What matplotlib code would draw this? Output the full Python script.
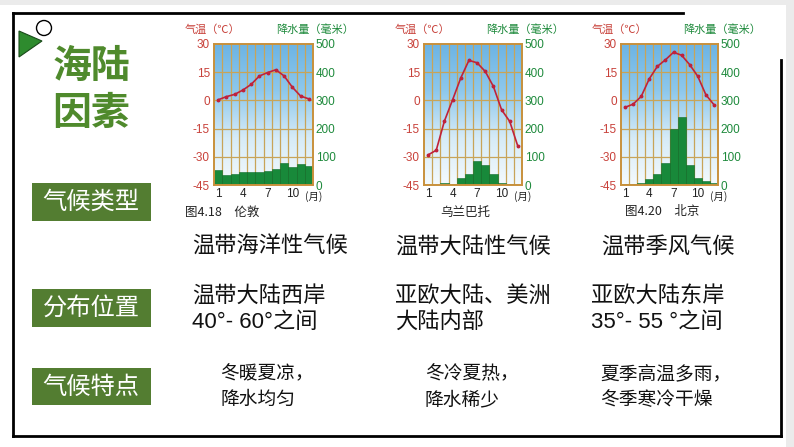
import numpy as np
import matplotlib
matplotlib.use("Agg")
import matplotlib.pyplot as plt
from matplotlib.patches import Rectangle, Polygon, Circle
from matplotlib.colors import LinearSegmentedColormap

plt.rcParams['font.family'] = ['Liberation Sans', 'Noto Sans CJK SC', 'DejaVu Sans']

# ---------------- data ----------------
months = list(range(1, 13))
month_ticks = [1, 4, 7, 10]
temp_ticks = [-45, -30, -15, 0, 15, 30]
prec_ticks = [0, 100, 200, 300, 400, 500]

london_temp = [0.3, 2.0, 3.2, 5.5, 8.5, 13.0, 14.8, 16.3, 13.0, 7.0, 2.3, 0.8]
london_prec = [53, 36, 38, 47, 47, 47, 50, 55, 77, 65, 75, 69]

ulan_temp = [-29.0, -26.5, -11.0, 0.3, 11.9, 21.3, 20.0, 15.4, 7.4, -5.0, -11.2, -24.5]
ulan_prec = [1, 1, 8, 4, 26, 40, 86, 71, 39, 6, 2, 1]

beijing_temp = [-3.7, -2.0, 2.1, 11.5, 18.1, 21.6, 25.6, 24.0, 19.0, 12.8, 3.0, -2.3]
beijing_prec = [4, 5, 8, 21, 39, 78, 199, 240, 71, 26, 14, 8]

captions = ["图4.18　伦敦", "乌兰巴托", "图4.20　北京"]
climate_types = ["温带海洋性气候", "温带大陆性气候", "温带季风气候"]
locations = [["温带大陆西岸", "40°- 60°之间"],
             ["亚欧大陆、美洲", "大陆内部"],
             ["亚欧大陆东岸", "35°- 55 °之间"]]
features = [["冬暖夏凉，", "降水均匀"],
            ["冬冷夏热，", "降水稀少"],
            ["夏季高温多雨，", "冬季寒冷干燥"]]
row_labels = ["气候类型", "分布位置", "气候特点"]

# ---------------- figure ----------------
W, H = 794, 447
fig = plt.figure(figsize=(W / 100, H / 100), dpi=100)
fig.patch.set_facecolor('white')

bg = fig.add_axes([0, 0, 1, 1])
bg.set_xlim(0, W)
bg.set_ylim(H, 0)
bg.axis('off')

# light gray outer strips
bg.add_patch(Rectangle((0, 0), W, 5, facecolor='#ebebeb', edgecolor='none'))
bg.add_patch(Rectangle((786, 0), 8, H, facecolor='#ebebeb', edgecolor='none'))

# black frame
kw = dict(color='black', lw=2.0, solid_capstyle='projecting')
bg.plot([13, 683], [13, 13], **kw)
bg.plot([13, 13], [13, 436], **kw)
bg.plot([13, 781], [436, 436], **kw)
bg.plot([781, 781], [60, 436], **kw)

# triangle + circle decoration
bg.add_patch(Polygon([[19, 31], [19, 57], [42, 41]], closed=True,
                     facecolor='#2e8b2e', edgecolor='#1a4a1a', lw=0.8))
bg.add_patch(Circle((44, 28), 7.5, facecolor='white', edgecolor='black', lw=1.0))

# big title
green_title = '#4f8a2c'
bg.text(91, 66, "海陆", fontsize=28, fontweight='bold', color=green_title,
        ha='center', va='center', family=['Noto Sans CJK SC'])
bg.text(91, 113, "因素", fontsize=28, fontweight='bold', color=green_title,
        ha='center', va='center', family=['Noto Sans CJK SC'])

# green label boxes
box_green = '#537d31'
for lab, (y0, y1) in zip(row_labels, [(183, 221), (289, 327), (368, 405)]):
    bg.add_patch(Rectangle((32, y0), 119, y1 - y0, facecolor=box_green, edgecolor='none'))
    bg.text(91, (y0 + y1) / 2, lab, fontsize=17.5, color='white', ha='center',
            va='center', family=['Noto Sans CJK SC'], fontweight='light')

# row texts
txt_col = '#111111'
type_x = [192, 395, 601]
for x, t in zip(type_x, climate_types):
    bg.text(x, 247, t, fontsize=16, color=txt_col, ha='left', va='center')

loc_x = [192, 395, 591]
for x, (a, b) in zip(loc_x, locations):
    bg.text(x, 296, a, fontsize=16, color=txt_col, ha='left', va='center')
    bg.text(x, 322, b, fontsize=16, color=txt_col, ha='left', va='center')

feat_x = [220, 425, 600]
for x, (a, b) in zip(feat_x, features):
    bg.text(x, 374, a, fontsize=13.5, color=txt_col, ha='left', va='center')
    bg.text(x, 400, b, fontsize=13.5, color=txt_col, ha='left', va='center')

# ---------------- climate charts ----------------
red = '#c8413a'
line_red = '#c0223a'
grn_txt = '#1e8a3c'
bar_green = '#18893a'
grid_col = '#c8a458'
frame_col = '#c8913c'

sky = LinearSegmentedColormap.from_list('sky', ['#f4fafd', '#d6ebf7', '#8ec8ec', '#6cb4e4'])
grad = np.linspace(0, 1, 256).reshape(-1, 1)

charts = [
    (214, 313, london_temp, london_prec, captions[0], 185, 'left'),
    (424, 522, ulan_temp, ulan_prec, captions[1], 465, 'center'),
    (621, 718, beijing_temp, beijing_prec, captions[2], 625, 'left'),
]
top_px, bot_px = 44, 185

for (x0, x1, temp, prec, cap, capx, capha) in charts:
    rect = [x0 / W, 1 - bot_px / H, (x1 - x0) / W, (bot_px - top_px) / H]
    axp = fig.add_axes(rect)  # precipitation (right axis), drawn below
    axt = axp.twinx()          # temperature (left axis), drawn on top

    axp.set_xlim(0.5, 12.5)
    axp.set_ylim(0, 500)
    axp.imshow(grad, cmap=sky, aspect='auto', origin='lower',
               extent=(0.5, 12.5, 0, 500), zorder=0)
    for gx in np.arange(1.5, 12.5, 1.0):
        axp.axvline(gx, color=grid_col, lw=0.9, zorder=1)
    for gy in prec_ticks[1:-1]:
        axp.axhline(gy, color=grid_col, lw=0.9, zorder=1)
    axp.bar(months, prec, width=1.0, color=bar_green, edgecolor='#0e6a2a',
            linewidth=0.4, zorder=2)
    axp.set_yticks(prec_ticks)
    axp.set_yticklabels([str(v) for v in prec_ticks], color=grn_txt, fontsize=8.5)
    axp.yaxis.tick_right()
    axp.tick_params(axis='y', left=False, labelleft=False, right=False,
                    labelright=True, length=0, pad=2)
    axp.set_xticks(month_ticks)
    axp.set_xticklabels([str(m) for m in month_ticks], fontsize=8.5, color='#222222')
    axp.tick_params(axis='x', length=0, pad=2)
    for s in axp.spines.values():
        s.set_color(frame_col)
        s.set_linewidth(1.4)
    axp.text(12.6, -22, "(月)", fontsize=7.5, color='#222222', ha='center', va='top',
             family=['Noto Sans CJK SC'], clip_on=False)

    axt.set_ylim(-45, 30)
    axt.set_xlim(0.5, 12.5)
    axt.set_yticks(temp_ticks)
    axt.set_yticklabels([str(v) for v in temp_ticks], color=red, fontsize=8.5)
    axt.yaxis.tick_left()
    axt.tick_params(axis='y', left=False, labelleft=True, right=False,
                    labelright=False, length=0, pad=3)
    axt.plot(months, temp, color=line_red, lw=1.2, marker='o', ms=1.8,
             markerfacecolor=line_red, markeredgecolor=line_red, zorder=5)
    for s in axt.spines.values():
        s.set_visible(False)

    # axis titles and caption
    bg.text(x0 - 29, 30, "气温（℃）", fontsize=8, color=red, ha='left', va='center',
            family=['Noto Sans CJK SC'])
    bg.text(x0 + 62, 30, "降水量（毫米）", fontsize=8, color=grn_txt, ha='left', va='center',
            family=['Noto Sans CJK SC'])
    bg.text(capx, 212, cap, fontsize=9, color='#222222', ha=capha, va='center',
            family=['Noto Sans CJK SC'])

fig.savefig("out.png", dpi=100)
